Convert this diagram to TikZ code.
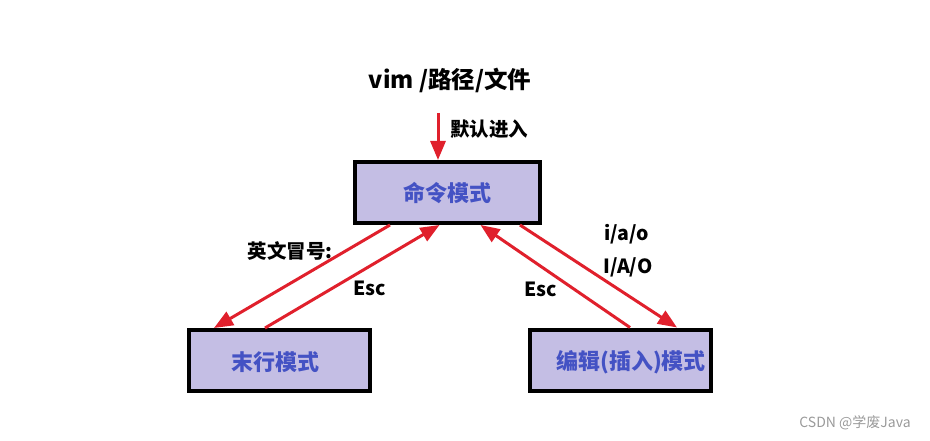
\documentclass[tikz,border=0pt]{standalone}
\usepackage{fontspec}
\setmainfont{Noto Sans CJK SC}
\usetikzlibrary{arrows.meta}
\definecolor{boxfill}{HTML}{C4BEE4}
\definecolor{boxtext}{HTML}{4452C4}
\definecolor{arr}{HTML}{E0202C}
\definecolor{wm}{HTML}{9A9A9A}
\tikzset{
  modebox/.style={draw=black, line width=4pt, fill=boxfill, minimum height=61pt, inner sep=0pt},
  modetext/.style={text=boxtext, font=\fontsize{22}{25}\selectfont\bfseries, inner sep=0pt},
  lbl/.style={font=\fontsize{19.5}{22}\selectfont\bfseries, inner sep=0pt},
  redarrow/.style={draw=arr, line width=3pt, -{Triangle[length=19pt,width=15pt]}}
}
\begin{document}
\begin{tikzpicture}[x=1pt,y=-1pt]
\useasboundingbox (0,0) rectangle (930,441);
% boxes
\node[modebox, minimum width=185pt] (cmd) at (447.5,192.5) {};
\node[modetext] (cmdt) at (447,193) {命令模式};
\node[modebox, minimum width=181pt] (last) at (279.5,360.5) {};
\node[modetext] (lastt) at (275,362) {末行模式};
\node[modebox, minimum width=181pt] (edit) at (620.5,360) {};
\node[modetext] (editt) at (631,362) {编辑(插入)模式};
% title
\node[font=\fontsize{23.5}{26}\selectfont\bfseries, inner sep=0pt] (title) at (450,80) {vim /路径/文件};
\coordinate (entry) at (438,113);
\draw[redarrow] (entry) -- (entry |- cmd.north);
\node[lbl] (entrylbl) at (489,129) {默认进入};
% left arrows
\draw[redarrow] ([xshift=-57.5pt]cmd.south) -- ([xshift=-65.5pt]last.north);
\draw[redarrow] ([xshift=-14.5pt]last.north) -- ([xshift=-8pt]cmd.south);
\node[lbl] (colon) at (290,251) {英文冒号:};
\node[lbl] (escl) at (370,288) {Esc};
% right arrows
\draw[redarrow] ([xshift=72.5pt]cmd.south) -- ([xshift=56.5pt]edit.north);
\draw[redarrow] ([xshift=9.5pt]edit.north) -- ([xshift=33pt]cmd.south);
\node[lbl] (escr) at (541,289) {Esc};
\node[lbl] (iao) at (627,234) {i/a/o};
\node[lbl] (IAO) at (628,267) {I/A/O};
% watermark
\node[text=wm, font=\fontsize{14}{16}\selectfont, inner sep=0pt] (wmk) at (855,423) {CSDN @学废Java};
\end{tikzpicture}
\end{document}
